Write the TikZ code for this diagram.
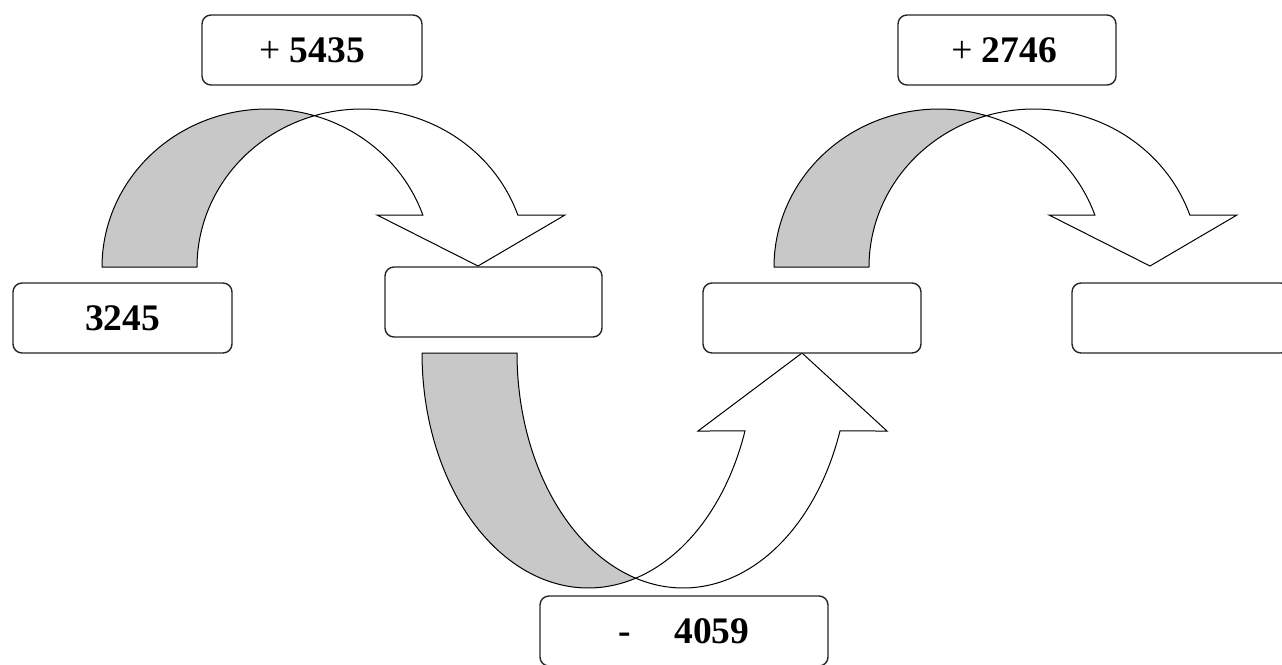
\documentclass[tikz,border=0pt]{standalone}
\usepackage{fontspec}
\setmainfont{Liberation Serif}
\definecolor{backgray}{RGB}{200,200,200}
\tikzset{
  numbox/.style={draw=black!85, line width=1.4pt, rounded corners=9pt, fill=white,
    minimum height=70pt, inner sep=0pt, font=\fontsize{37.5}{42}\selectfont},
  backface/.style={draw=black, line width=1pt, fill=backgray, line join=round},
  frontface/.style={draw=black, line width=1pt, fill=white, line join=miter},
}
\newcommand\TopCurved[1]{%
  \begin{scope}[shift={(#1,0)}]
    \draw[backface]
      plot[domain=180:73.27, samples=60, variable=\t] ({267+165*cos(\t)},{267-158*sin(\t)})
      -- plot[domain=106.73:180, samples=60, variable=\t] ({362+165*cos(\t)},{267-158*sin(\t)})
      -- cycle;
    \draw[frontface]
      plot[domain=73.27:19.21, samples=60, variable=\t] ({267+165*cos(\t)},{267-158*sin(\t)})
      -- (377,215) -- (478,266) -- (565,215)
      -- plot[domain=19.21:106.73, samples=60, variable=\t] ({362+165*cos(\t)},{267-158*sin(\t)})
      -- cycle;
  \end{scope}}
\begin{document}
\begin{tikzpicture}[x=1pt,y=-1pt]
\useasboundingbox (0,0) rectangle (1282,664);
\clip (0,0) rectangle (1282,664);

% curved arrows over the top
\TopCurved{0}
\TopCurved{672}

% curved arrow underneath
\draw[backface]
  plot[domain=180:73.39, samples=60, variable=\t] ({588.2+166.2*cos(\t)},{353+235*sin(\t)})
  -- plot[domain=106.61:180, samples=60, variable=\t] ({683.2+166.2*cos(\t)},{353+235*sin(\t)})
  -- cycle;
\draw[frontface]
  plot[domain=73.39:19.38, samples=60, variable=\t] ({588.2+166.2*cos(\t)},{353+235*sin(\t)})
  -- (698,431) -- (802,353) -- (887,431)
  -- plot[domain=19.38:106.61, samples=60, variable=\t] ({683.2+166.2*cos(\t)},{353+235*sin(\t)})
  -- cycle;

% number boxes
\node[numbox, minimum width=219pt] (b1) at (122.5,318) {\textbf{3245}};
\node[numbox, minimum width=217pt] (b2) at (493.5,302) {};
\node[numbox, minimum width=218pt] (b3) at (812,318) {};
\node[numbox, minimum width=218pt] (b4) at (1181,318) {};

% operation boxes
\node[numbox, minimum width=220pt] (op1) at (312,50) {+ \textbf{5435}};
\node[numbox, minimum width=218pt] (op2) at (1007,50) {\hspace{-6pt}+ \textbf{2746}};
\node[numbox, minimum width=288pt] (op3) at (684,631) {\textbf{-}\hspace{1.15em}\textbf{4059}\hspace{14pt}};
\end{tikzpicture}
\end{document}
